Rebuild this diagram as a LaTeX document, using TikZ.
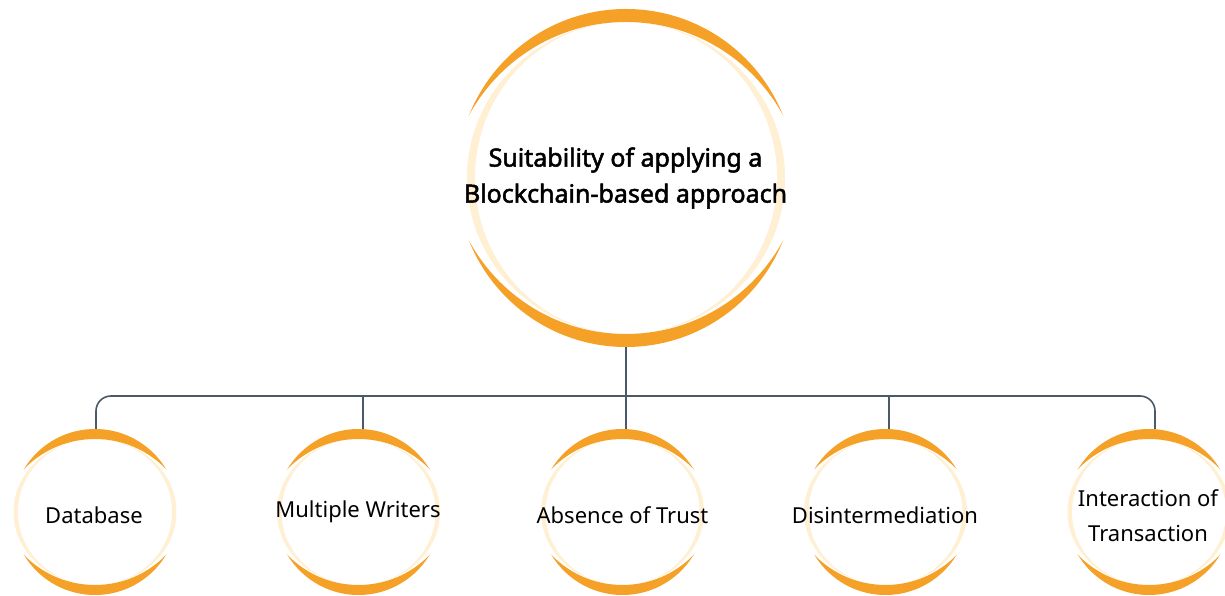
\documentclass[tikz,border=0pt]{standalone}
\usepackage{fontspec}
\setmainfont{Noto Sans}
\newfontfamily\titlefont[FakeBold=2]{Noto Sans}
\definecolor{orng}{HTML}{F5A127}
\definecolor{cream}{HTML}{FFEFD3}
\definecolor{slate}{HTML}{4B5A6B}
\newcommand\deco[7]{%
  \pgfmathsetmacro\ti{#3-#4}%
  \pgfmathsetmacro\rr{\ti+#5}%
  \fill[cream] (#1,#2) ellipse [x radius=#6, y radius=\ti];
  \fill[white] (#1,#2) ellipse [x radius=#7, y radius=\ti];
  \begin{scope}
    \clip (#1,#2) circle [radius=#3];
    \fill[orng, even odd rule] (#1-300,#2-300) rectangle (#1+300,#2+300) (#1,#2-#5) circle [radius=\rr];
    \fill[orng, even odd rule] (#1-300,#2-300) rectangle (#1+300,#2+300) (#1,#2+#5) circle [radius=\rr];
  \end{scope}}
\tikzset{
  conn/.style={draw=slate, line width=1.6pt},
  bigc/.style={circle, inner sep=0pt, minimum size=338pt},
  smallc/.style={circle, inner sep=0pt, minimum size=166pt},
  titletext/.style={font=\titlefont\fontsize{25}{36}\selectfont, align=center},
  itemtext/.style={font=\fontsize{22}{35}\selectfont, align=center},
}
\begin{document}
\begin{tikzpicture}[x=1pt,y=1pt]
\useasboundingbox (0,0) rectangle (1225,596);
\begin{scope}
\clip (0,0) rectangle (1225,596);
% decorations
\deco{626}{418}{169}{13}{22.75}{159}{151}
\deco{95}{84}{83}{10}{26}{81.5}{77}
\deco{358.5}{84}{83}{10}{26}{81.5}{77}
\deco{622.5}{84}{83}{10}{26}{81.5}{77}
\deco{885.5}{84}{83}{10}{26}{81.5}{77}
\deco{1149}{84}{83}{10}{26}{81.5}{77}
\end{scope}
% shape nodes
\node[bigc] (top) at (626,418) {};
\node[smallc] (n1) at (96,84) {};
\node[smallc] (n2) at (363,84) {};
\node[smallc] (n3) at (626,84) {};
\node[smallc] (n4) at (889,84) {};
\node[smallc] (n5) at (1155,84) {};
\coordinate (bus) at (626,200);
% connectors
\draw[conn] (top.south) -- (top.south |- bus);
\draw[conn, rounded corners=15pt] (n1.north) -- (n1.north |- bus) -| (n5.north);
\draw[conn] (n2.north) -- (n2.north |- bus);
\draw[conn] (n3.north) -- (n3.north |- bus);
\draw[conn] (n4.north) -- (n4.north |- bus);
% texts
\node[titletext] (tt) at (625.5,418) {Suitability of applying a\\Blockchain-based approach};
\node[itemtext] (t1) at (94,81) {Database};
\node[itemtext] (t2) at (358,84) {Multiple Writers};
\node[itemtext] (t3) at (622.5,81) {Absence of Trust};
\node[itemtext] (t4) at (885,81) {Disintermediation};
\node[itemtext] (t5) at (1148,80) {Interaction of\\Transaction};
\end{tikzpicture}
\end{document}
